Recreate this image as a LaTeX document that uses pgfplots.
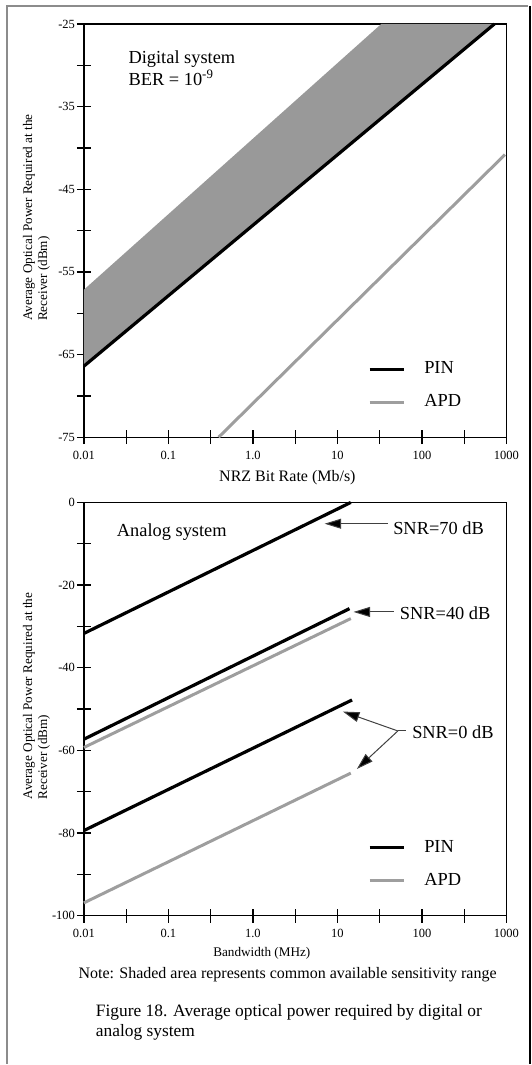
\documentclass[border=0pt]{standalone}
\usepackage{fontspec}
\setmainfont{Liberation Serif}
\usepackage{pgfplots}
\pgfplotsset{compat=1.18}
\usetikzlibrary{arrows.meta}
\definecolor{shade}{RGB}{153,153,153}
\definecolor{apd}{RGB}{158,158,158}
\definecolor{framegray}{RGB}{140,140,140}
\newcommand\fs[2]{\fontsize{#1}{#2}\selectfont}
\tikzset{
 pinline/.style={black, line width=1.6pt},
 apdline/.style={apd, line width=1.5pt},
 arrw/.style={black!75, line width=0.5pt, -{Triangle[length=8.3pt,width=5pt,fill=black]}},
 lbl/.style={anchor=base west, inner sep=0pt, font=\fs{9.2}{11}},
}
\begin{document}
\begin{tikzpicture}
\path[draw=none] (0pt,0pt) rectangle (266pt,-532.5pt);

\begin{axis}[at={(42pt,-12pt)}, anchor=north west,
  scale only axis, width=211.5pt, height=206.85pt,
  xmode=log, xmin=0.01, xmax=1000,
  xtick={0.01,0.0316228,0.1,0.316228,1,3.16228,10,31.6228,100,316.228,1000},
  xticklabels={0.01,,0.1,,1.0,,10,,100,,1000},
  tick align=center, major tick length=7pt,
  xtick pos=left, ytick pos=left,
  xminorticks=false, yminorticks=false,
  axis line style={line width=0.65pt},
  tick style={black, line width=0.65pt},
  tick label style={font=\fs{6.25}{7}},
  xticklabel style={anchor=base, inner sep=0pt, yshift=-7.6pt},
  yticklabel style={anchor=east, inner sep=0pt, xshift=-0.8pt},
  clip=false,
  legend style={draw=none, fill=none, font=\fs{9.2}{11},
    at={(axis description cs:0.6714,0.1931)}, anchor=north west,
    inner sep=0pt, row sep=4.9pt, column sep=7.5pt},
  legend cell align=left,
  ylabel={Average Optical Power Required at the\\Receiver (dBm)},
  ylabel style={at={(axis description cs:-0.1454,0.2804)},
    anchor=north west, align=left, inner sep=0pt, font=\fs{6.6}{7.6}},
  ymin=-75, ymax=-25, ytick={-75,-70,...,-25},
  yticklabels={-75,,-65,,-55,,-45,,-35,,-25},
  xlabel={NRZ Bit Rate (Mb/s)},
  xlabel style={at={(axis description cs:0.4816,-0.1064)}, anchor=base, inner sep=0pt, font=\fs{8}{9.6}}]
\addplot[fill=shade, draw=none, forget plot] coordinates {(0.01,-57.15) (33,-25) (721,-25) (0.01,-66.4)};
\addplot[pinline] coordinates {(0.01,-66.4) (721,-25)};
\addplot[apdline] coordinates {(0.393,-75) (962,-40.8)};
\legend{PIN,APD}
\node[lbl] at (axis cs:0.0334,-29.75) {Digital system};
\node[lbl] at (axis cs:0.0334,-32.5) {BER = 10\textsuperscript{-9}};
\end{axis}

\begin{axis}[at={(42pt,-251.5pt)}, anchor=north west,
  scale only axis, width=211.5pt, height=206.85pt,
  xmode=log, xmin=0.01, xmax=1000,
  xtick={0.01,0.0316228,0.1,0.316228,1,3.16228,10,31.6228,100,316.228,1000},
  xticklabels={0.01,,0.1,,1.0,,10,,100,,1000},
  tick align=center, major tick length=7pt,
  xtick pos=left, ytick pos=left,
  xminorticks=false, yminorticks=false,
  axis line style={line width=0.65pt},
  tick style={black, line width=0.65pt},
  tick label style={font=\fs{6.25}{7}},
  xticklabel style={anchor=base, inner sep=0pt, yshift=-7.6pt},
  yticklabel style={anchor=east, inner sep=0pt, xshift=-0.8pt},
  clip=false,
  legend style={draw=none, fill=none, font=\fs{9.2}{11},
    at={(axis description cs:0.6714,0.1931)}, anchor=north west,
    inner sep=0pt, row sep=4.9pt, column sep=7.5pt},
  legend cell align=left,
  ylabel={Average Optical Power Required at the\\Receiver (dBm)},
  ylabel style={at={(axis description cs:-0.1454,0.2804)},
    anchor=north west, align=left, inner sep=0pt, font=\fs{6.6}{7.6}},
  ymin=-100, ymax=0, ytick={-100,-90,...,0},
  yticklabels={-100,,-80,,-60,,-40,,-20,,0},
  xlabel={Bandwidth (MHz)},
  xlabel style={at={(axis description cs:0.421,-0.0981)}, anchor=base, inner sep=0pt, font=\fs{6.6}{7.6}}]
\addplot[pinline] coordinates {(0.01,-31.7) (14.4,0)};
\addplot[apdline] coordinates {(0.01,-59.3) (14.4,-28.1)};
\addplot[pinline, forget plot] coordinates {(0.01,-57.3) (13.9,-25.7)};
\addplot[pinline, forget plot] coordinates {(0.01,-79.4) (14.9,-47.8)};
\addplot[apdline, forget plot] coordinates {(0.01,-96.9) (14.4,-65.5)};
\legend{PIN,APD}
\node[lbl] at (axis cs:0.02434,-8.29) {Analog system};
\draw[arrw] (axis cs:39.5,-5.15) -- (axis cs:7.06,-5.15);
\node[lbl] at (axis cs:45.3,-7.73) {SNR=70 dB};
\draw[arrw] (axis cs:46.5,-26.5) -- (axis cs:15.5,-26.5);
\node[lbl] at (axis cs:54.3,-28.3) {SNR=40 dB};
\draw[black!75, line width=0.5pt] (axis cs:64,-55.3) -- (axis cs:51.9,-55.3);
\draw[arrw] (axis cs:51.9,-55.3) -- (axis cs:11.6,-50.6);
\draw[arrw] (axis cs:51.9,-55.3) -- (axis cs:17.0,-64.5);
\node[lbl] at (axis cs:76,-57.1) {SNR=0 dB};
\end{axis}

\begin{scope}[x=0.5pt,y=-0.5pt]
\node[anchor=base, inner sep=0pt, font=\fs{8}{9.6}] at (287.9,980) {Note: Shaded area represents common available sensitivity range};
\node[anchor=base west, inner sep=0pt, font=\fs{8.7}{10}] at (95.7,1018) {Figure 18. Average optical power required by digital or};
\node[anchor=base west, inner sep=0pt, font=\fs{8.7}{10}] at (95.7,1038) {analog system};
\draw[framegray, line width=1pt] (7,1065) -- (7,6) -- (529,6);
\draw[black, line width=1.2pt] (530.5,6) -- (530.5,1065);
\end{scope}
\end{tikzpicture}
\end{document}
